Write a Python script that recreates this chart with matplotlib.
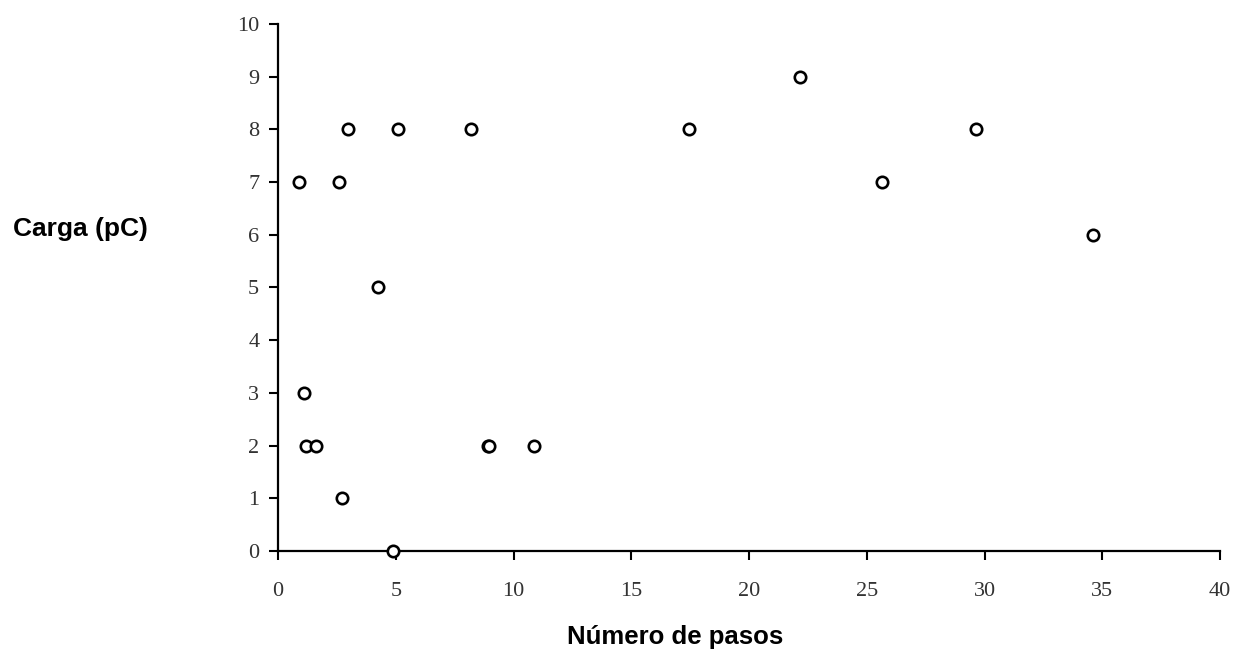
import matplotlib
matplotlib.use("Agg")
import matplotlib.pyplot as plt

# Data
pasos = [0.9, 1.1, 1.2, 1.6, 2.6, 2.7, 2.95, 4.25, 4.9, 5.1, 8.2, 8.9, 8.95, 10.85,
         17.45, 22.15, 25.65, 29.65, 34.6]
carga = [7, 3, 2, 2, 7, 1, 8, 5, 0, 8, 8, 2, 2, 2,
         8, 9, 7, 8, 6]
x_ticks = [0, 5, 10, 15, 20, 25, 30, 35, 40]
y_ticks = list(range(0, 11))
x_label = "Número de pasos"
y_label = "Carga (pC)"

fig = plt.figure(figsize=(12.39, 6.52), dpi=100)
ax = fig.add_axes([0.2244, 0.1549, 0.9847 - 0.2244, 0.9632 - 0.1549])

ax.plot(pasos, carga, linestyle="none", marker="o", markersize=8.2,
        markerfacecolor="white", markeredgecolor="black", markeredgewidth=1.9,
        clip_on=False, zorder=5)

ax.set_xlim(0, 40)
ax.set_ylim(0, 10)
ax.set_xticks(x_ticks)
ax.set_yticks(y_ticks)

for s in ["top", "right"]:
    ax.spines[s].set_visible(False)
for s in ["left", "bottom"]:
    ax.spines[s].set_linewidth(1.6)
    ax.spines[s].set_color("black")

ax.tick_params(axis="both", direction="out", length=6.5, width=1.5, color="black",
               labelsize=16, labelcolor="#333333")
ax.tick_params(axis="x", pad=16)
ax.tick_params(axis="y", pad=7)
for lab in ax.get_xticklabels() + ax.get_yticklabels():
    lab.set_family(["Liberation Serif", "DejaVu Serif"])

fig.text(675 / 1239, 1 - 637 / 652, x_label, ha="center", va="center",
         fontsize=18.5, fontweight="bold", family=["Liberation Sans", "DejaVu Sans"])
fig.text(13 / 1239, 1 - 236 / 652, y_label, ha="left", va="baseline",
         fontsize=19, fontweight="bold", family=["Liberation Sans", "DejaVu Sans"])

fig.savefig("out.png", dpi=100)
